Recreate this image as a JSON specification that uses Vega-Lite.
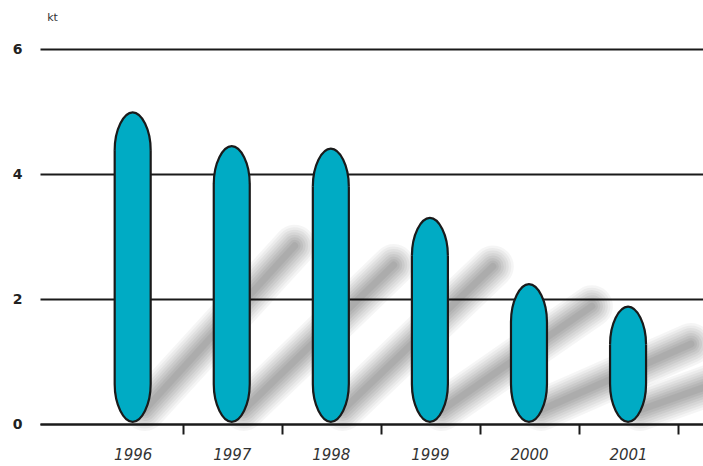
{
  "$schema": "https://vega.github.io/schema/vega-lite/v6.json",
  "width": 663,
  "height": 375,
  "autosize": {"type": "none"},
  "padding": {"left": 40, "top": 49, "right": 0, "bottom": 42},
  "background": "white",
  "config": {"view": {"stroke": null}},
  "data": {
    "values": [
      {"year": 1996, "value": 4.99},
      {"year": 1997, "value": 4.45},
      {"year": 1998, "value": 4.41},
      {"year": 1999, "value": 3.3},
      {"year": 2000, "value": 2.24},
      {"year": 2001, "value": 1.88}
    ]
  },
  "encoding": {
    "x": {
      "field": "year",
      "type": "quantitative",
      "scale": {"domain": [1995.115, 2001.706], "nice": false, "zero": false},
      "axis": {
        "values": [1996, 1997, 1998, 1999, 2000, 2001],
        "format": "d",
        "title": null,
        "grid": false,
        "tickOffset": 50,
        "labelOffset": -50,
        "tickSize": 10,
        "tickWidth": 2,
        "tickColor": "#1a1a1a",
        "domainColor": "#1a1a1a",
        "domainWidth": 2,
        "labelFont": "DejaVu Sans",
        "labelFontStyle": "italic",
        "labelFontSize": 15,
        "labelColor": "#333333",
        "labelPadding": 13
      }
    }
  },
  "layer": [
    {
      "encoding": {
        "x2": {"field": "year"},
        "y": {"field": "value", "type": "quantitative", "scale": {"domain": [0, 10.5], "nice": false}, "axis": null},
        "y2": {"datum": 0}
      },
      "layer": [
        {"mark": {"type": "rule", "color": "black", "opacity": 0.04, "strokeWidth": 42, "strokeCap": "round", "xOffset": 162, "x2Offset": 12, "y2Offset": -14}},
        {"mark": {"type": "rule", "color": "black", "opacity": 0.04, "strokeWidth": 37, "strokeCap": "round", "xOffset": 162, "x2Offset": 12, "y2Offset": -14}},
        {"mark": {"type": "rule", "color": "black", "opacity": 0.045, "strokeWidth": 32, "strokeCap": "round", "xOffset": 162, "x2Offset": 12, "y2Offset": -14}},
        {"mark": {"type": "rule", "color": "black", "opacity": 0.045, "strokeWidth": 27, "strokeCap": "round", "xOffset": 162, "x2Offset": 12, "y2Offset": -14}},
        {"mark": {"type": "rule", "color": "black", "opacity": 0.05, "strokeWidth": 22, "strokeCap": "round", "xOffset": 162, "x2Offset": 12, "y2Offset": -14}},
        {"mark": {"type": "rule", "color": "black", "opacity": 0.05, "strokeWidth": 17, "strokeCap": "round", "xOffset": 162, "x2Offset": 12, "y2Offset": -14}},
        {"mark": {"type": "rule", "color": "black", "opacity": 0.05, "strokeWidth": 12, "strokeCap": "round", "xOffset": 162, "x2Offset": 12, "y2Offset": -14}},
        {"mark": {"type": "rule", "color": "black", "opacity": 0.05, "strokeWidth": 7, "strokeCap": "round", "xOffset": 162, "x2Offset": 12, "y2Offset": -14}}
      ]
    },
    {
      "encoding": {
        "y": {
          "field": "value",
          "type": "quantitative",
          "scale": {"domain": [0, 6], "nice": false},
          "axis": {
            "values": [0, 2, 4, 6],
            "grid": true,
            "gridColor": "#1a1a1a",
            "gridWidth": 2,
            "domain": false,
            "ticks": false,
            "tickSize": 0,
            "labelPadding": 18,
            "labelFont": "DejaVu Sans",
            "labelFontWeight": "bold",
            "labelFontSize": 14,
            "labelColor": "#222222",
            "title": "kt",
            "titleAngle": 0,
            "titleX": 12,
            "titleY": -32,
            "titleAlign": "center",
            "titleBaseline": "middle",
            "titleFont": "DejaVu Sans",
            "titleFontWeight": "normal",
            "titleFontSize": 11,
            "titleColor": "#333333"
          }
        }
      },
      "layer": [
        {
          "mark": {"type": "bar", "size": 36, "fill": "#00abc4", "strokeWidth": 0, "yOffset": 33, "y2Offset": -35},
          "encoding": {"y2": {"datum": 0}}
        },
        {
          "mark": {"type": "point", "shape": "M-1,0C-1,-1.15,-0.5,-2.1,0,-2.1C0.5,-2.1,1,-1.15,1,0", "size": 1296, "filled": true, "fill": "#00abc4", "stroke": "#1a1a1a", "strokeWidth": 2.2, "opacity": 1, "yOffset": 38}
        },
        {
          "mark": {"type": "point", "shape": "M-1,0C-1,1.15,-0.5,2.1,0,2.1C0.5,2.1,1,1.15,1,0", "size": 1296, "filled": true, "fill": "#00abc4", "stroke": "#1a1a1a", "strokeWidth": 2.2, "opacity": 1, "yOffset": -40},
          "encoding": {"y": {"datum": 0, "type": "quantitative"}}
        },
        {
          "mark": {"type": "rule", "color": "#1a1a1a", "strokeWidth": 2.2, "yOffset": 38, "y2Offset": -40, "xOffset": -18, "x2Offset": -18},
          "encoding": {"x2": {"field": "year"}, "y2": {"datum": 0}}
        },
        {
          "mark": {"type": "rule", "color": "#1a1a1a", "strokeWidth": 2.2, "yOffset": 38, "y2Offset": -40, "xOffset": 18, "x2Offset": 18},
          "encoding": {"x2": {"field": "year"}, "y2": {"datum": 0}}
        }
      ]
    }
  ],
  "resolve": {"scale": {"y": "independent"}}
}
